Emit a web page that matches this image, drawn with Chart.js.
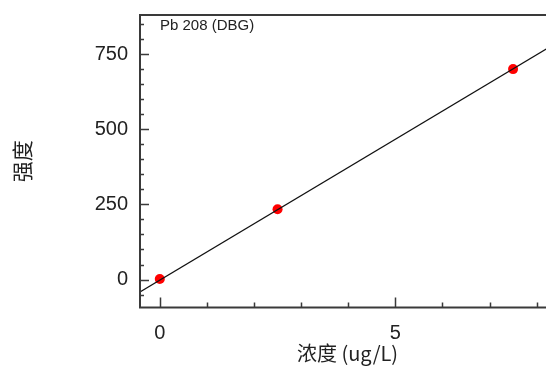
<!DOCTYPE html>
<html lang="zh">
<head>
    <meta charset="UTF-8">
    <title>Pb 208 (DBG)</title>
    <script src="https://cdn.jsdelivr.net/npm/chart.js"></script>
    <style>
        html, body { margin: 0; padding: 0; background: #fff; overflow: hidden; }
        #wrap { width: 546px; height: 369px; overflow: hidden; }
    </style>
</head>
<body>
    <div id="wrap">
        <canvas id="calChart" width="560" height="369"></canvas>
    </div>

    <script>
        // calibration standards
        const concentration = [0, 2.5, 7.5];
        const intensity = [2, 234, 700];

        // fitted line, ends at the plot edges
        const fitX = [-0.42, 8.39];
        const fitY = [-41, 784];

        const xTicks = [0, 5];
        const yTicks = [0, 250, 500, 750];
        const xMinorStep = 1;
        const yMinorStep = 50;

        const labelFont = "'Liberation Sans', Arial, sans-serif";
        const cjkFont = "'Noto Sans CJK SC', 'Liberation Sans', sans-serif";

        // frame, inward ticks and the element label
        const framePlugin = {
            id: 'frame',
            afterDatasetsDraw(chart) {
                const { ctx, chartArea: a, scales: { x, y } } = chart;
                ctx.save();
                ctx.strokeStyle = '#3a3a3a';
                ctx.lineWidth = 2;
                ctx.strokeRect(a.left, a.top, a.right - a.left, a.bottom - a.top);

                ctx.lineWidth = 1.5;
                ctx.beginPath();
                for (let v = Math.ceil(x.min); v <= x.max; v += xMinorStep) {
                    const px = Math.round(x.getPixelForValue(v)) + 0.5;
                    const len = xTicks.includes(v) ? 10 : 5;
                    ctx.moveTo(px, a.bottom);
                    ctx.lineTo(px, a.bottom - len);
                }
                for (let v = Math.ceil(y.min / yMinorStep) * yMinorStep; v <= y.max; v += yMinorStep) {
                    const py = Math.round(y.getPixelForValue(v)) + 0.5;
                    const len = yTicks.includes(v) ? 9 : 4;
                    ctx.moveTo(a.left, py);
                    ctx.lineTo(a.left + len, py);
                }
                ctx.stroke();

                ctx.fillStyle = '#222';
                ctx.font = "15px 'Liberation Sans', Arial, sans-serif";
                ctx.textBaseline = 'middle';
                ctx.fillText('Pb 208 (DBG)', a.left + 20, a.top + 11);
                ctx.restore();
            }
        };

        new Chart(document.getElementById('calChart'), {
            type: 'scatter',
            data: {
                datasets: [
                    {
                        type: 'line',
                        data: fitX.map((v, i) => ({ x: v, y: fitY[i] })),
                        borderColor: '#111',
                        borderWidth: 1.2,
                        pointRadius: 0,
                        fill: false,
                        tension: 0
                    },
                    {
                        data: concentration.map((v, i) => ({ x: v, y: intensity[i] })),
                        backgroundColor: '#ff0000',
                        borderColor: '#ff0000',
                        pointRadius: 5,
                        borderWidth: 0
                    }
                ]
            },
            options: {
                responsive: false,
                animation: false,
                devicePixelRatio: 1,
                layout: { padding: { top: 15, right: 4, left: 0, bottom: 0 } },
                plugins: { legend: { display: false }, tooltip: { enabled: false } },
                scales: {
                    x: {
                        type: 'linear',
                        min: -0.42,
                        max: 8.39,
                        afterBuildTicks: axis => { axis.ticks = xTicks.map(v => ({ value: v })); },
                        afterFit: axis => {
                            axis.height = 61.5;
                            axis.paddingLeft = 0;
                            axis.paddingRight = 0;
                        },
                        grid: { display: false, drawTicks: false },
                        border: { display: false },
                        ticks: { padding: 14, color: '#222', font: { family: labelFont, size: 20 } },
                        title: {
                            display: true,
                            text: '浓度 (ug/L)',
                            color: '#222',
                            font: { family: cjkFont, size: 20 },
                            padding: { top: 0, bottom: 4 }
                        }
                    },
                    y: {
                        type: 'linear',
                        min: -93,
                        max: 880,
                        afterBuildTicks: axis => { axis.ticks = yTicks.map(v => ({ value: v })); },
                        afterFit: axis => {
                            axis.width = 140;
                            axis.paddingTop = 0;
                            axis.paddingBottom = 0;
                        },
                        grid: { display: false, drawTicks: false },
                        border: { display: false },
                        ticks: { padding: 12, color: '#222', font: { family: labelFont, size: 20 } },
                        title: {
                            display: true,
                            text: '强度',
                            color: '#222',
                            font: { family: cjkFont, size: 21 },
                            padding: { top: 9, bottom: 0 }
                        }
                    }
                }
            },
            plugins: [framePlugin]
        });
    </script>
</body>
</html>
